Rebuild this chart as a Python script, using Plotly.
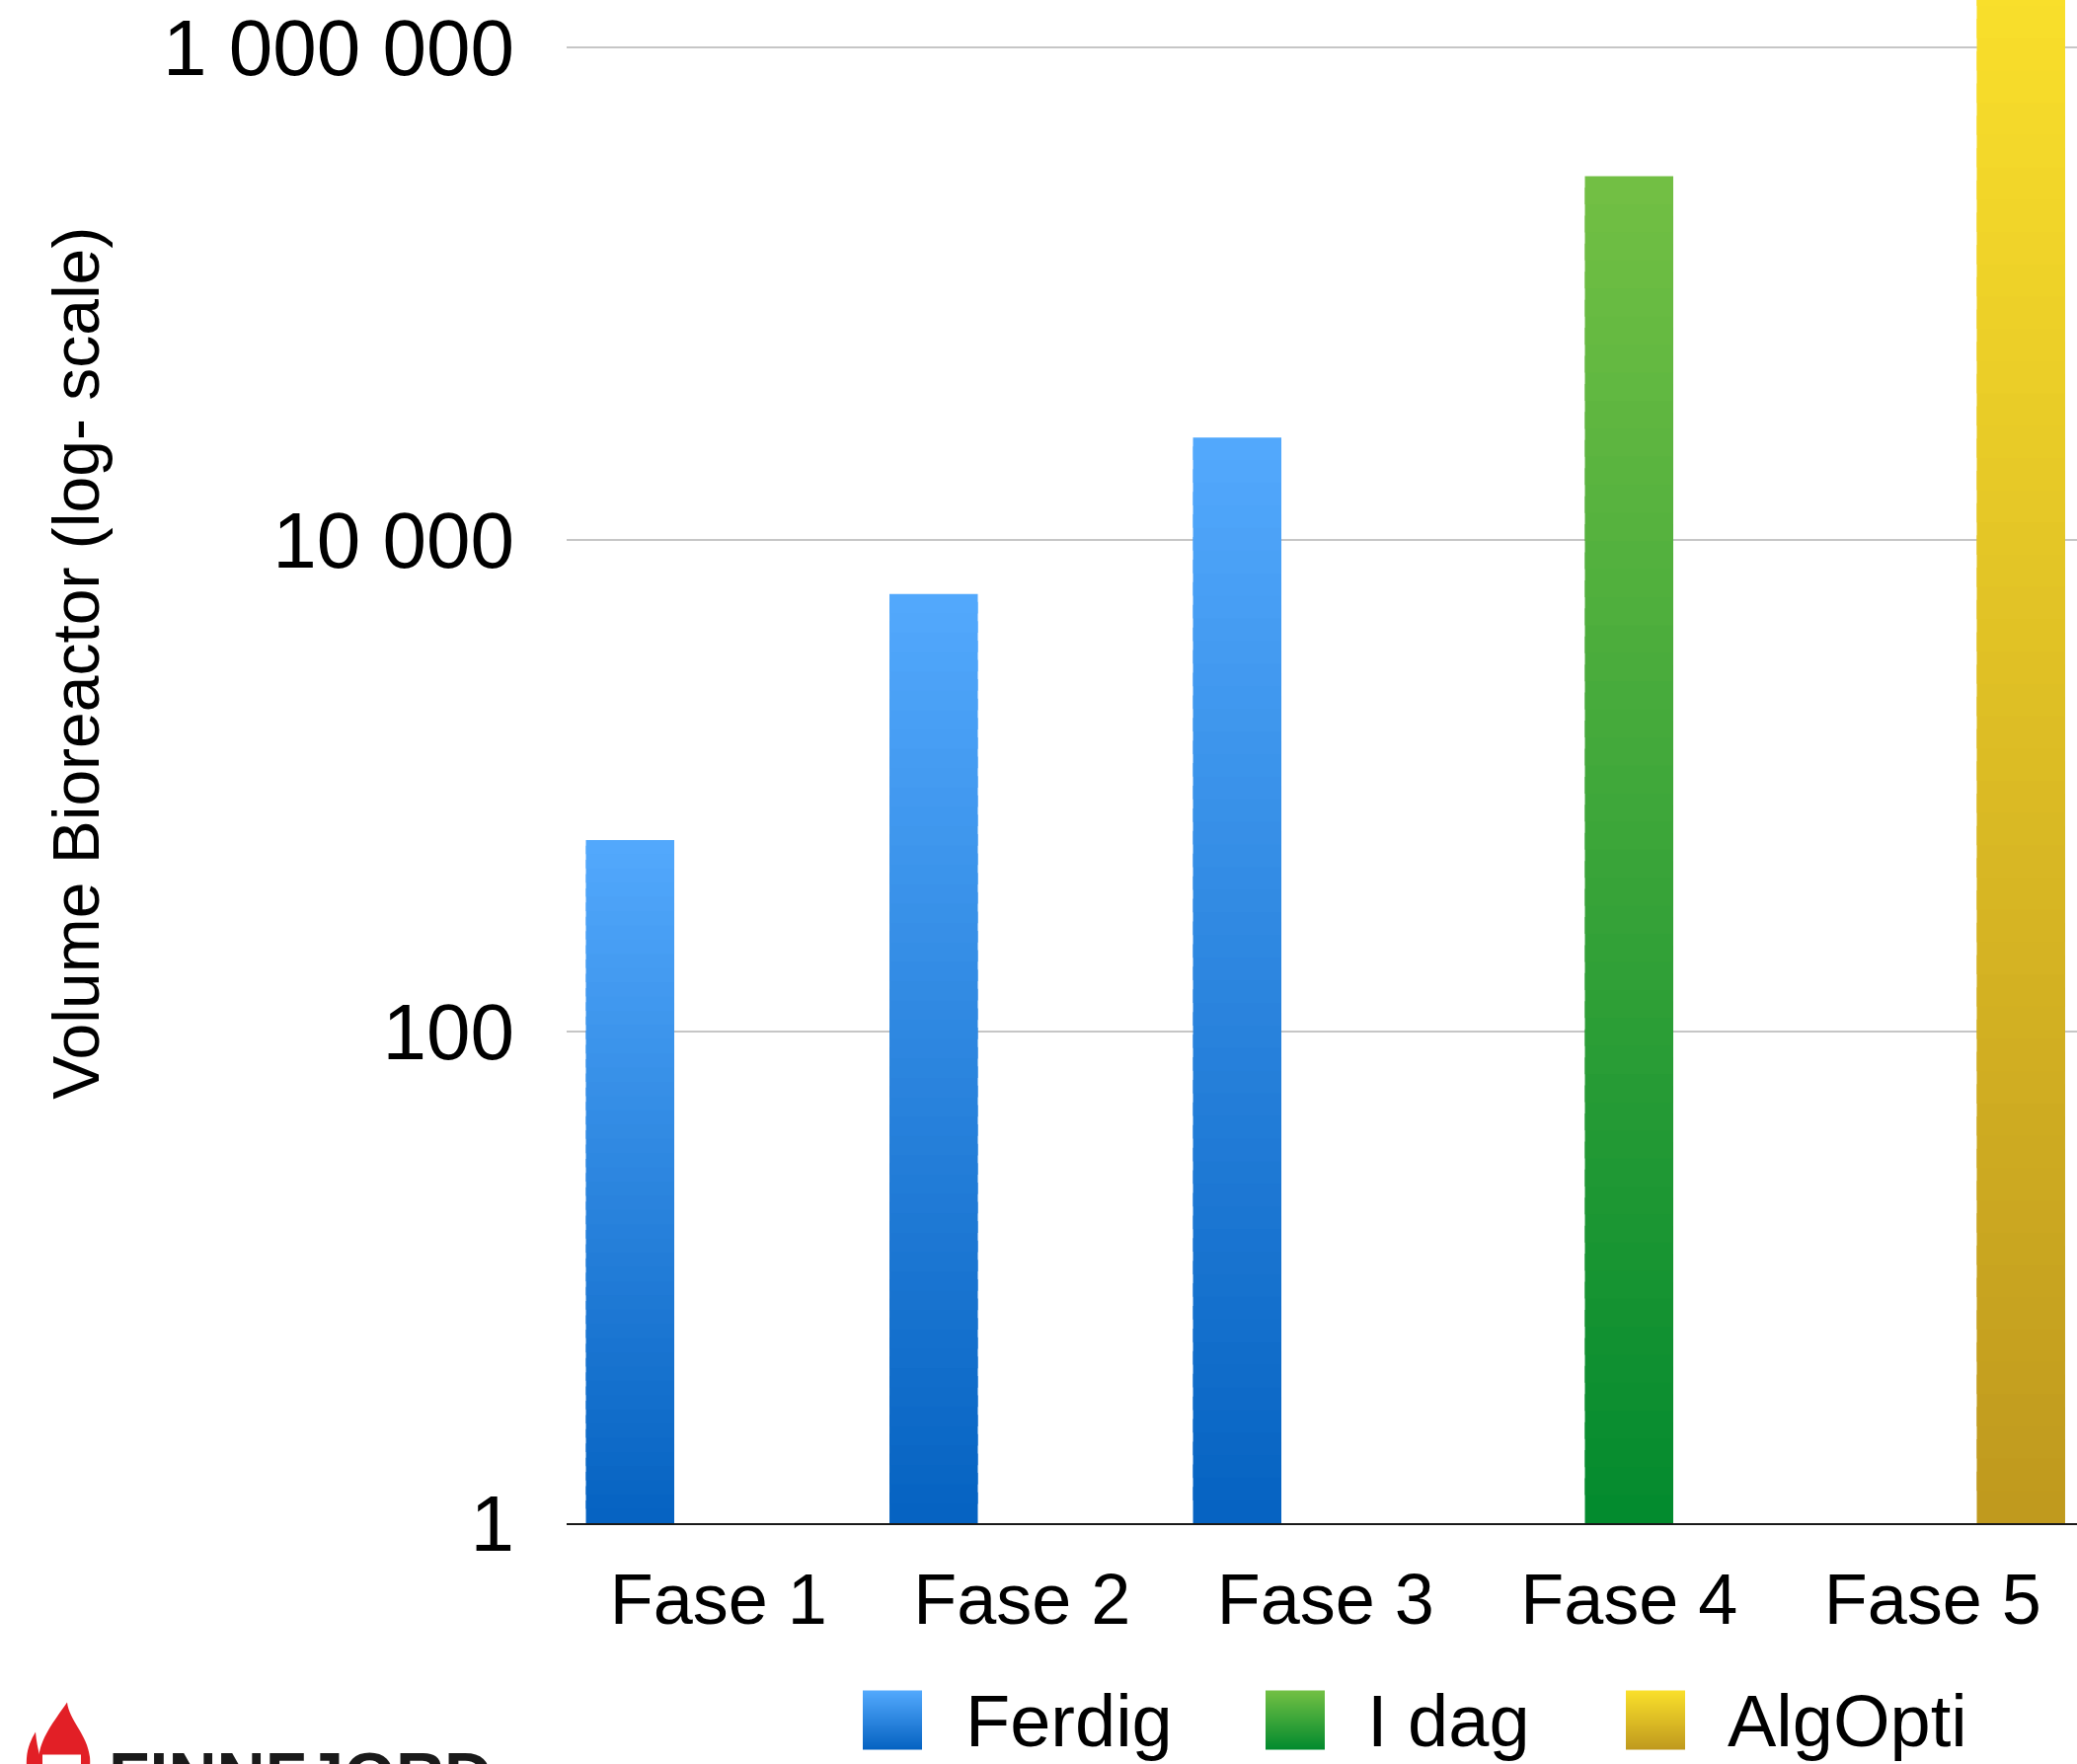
import plotly.graph_objects as go

# ---- data -------------------------------------------------------------
categories = ["Fase 1", "Fase 2", "Fase 3", "Fase 4", "Fase 5"]
series_names = ["Ferdig", "I dag", "AlgOpti"]
ferdig = [600, 6000, 26000, None, None]
i_dag = [None, None, None, 300000, None]
algopti = [None, None, None, None, 2000000]
y_tickvals = [1, 100, 10000, 1000000]
y_ticktext = ["1", "100", "10 000", "1 000 000"]
y_title = "Volume Bioreactor (log- scale)"
logo_text = "FINNFJORD"

series_values = [ferdig, i_dag, algopti]
# (top colour, bottom colour) of each series' vertical gradient
series_gradients = [
    ("#53a9fd", "#0562c1"),
    ("#73c044", "#028a2e"),
    ("#fae02b", "#bf991e"),
]

# ---- geometry of the page (pixels) ------------------------------------
W, H = 2104, 1787
PLOT_L, PLOT_R, PLOT_T, PLOT_B = 574, 2104, 0, 1543.5
FONT = "Liberation Sans, Arial, Helvetica, sans-serif"


def paper(px, py):
    """Pixel position -> paper coordinates."""
    return ((px - PLOT_L) / (PLOT_R - PLOT_L), (PLOT_B - py) / (PLOT_B - PLOT_T))


def hex_to_rgb(h):
    h = h.lstrip("#")
    return tuple(int(h[i:i + 2], 16) for i in (0, 2, 4))


def mix(top, bottom, t):
    """t = 0 -> bottom colour, t = 1 -> top colour."""
    a, b = hex_to_rgb(top), hex_to_rgb(bottom)
    c = [round(b[i] + (a[i] - b[i]) * t) for i in range(3)]
    return "rgb(%d,%d,%d)" % tuple(c)


fig = go.Figure()

# Each bar is built from thin stacked slices (equal height on the log axis)
# so that it can carry a top-to-bottom colour gradient.
N_SLICES = 48
OVERLAP = 0.6
for name, values, (c_top, c_bot) in zip(series_names, series_values, series_gradients):
    for k in range(N_SLICES):
        lo = k / N_SLICES
        hi = min((k + 1 + OVERLAP) / N_SLICES, 1.0)
        bases, lengths = [], []
        for v in values:
            if v is None:
                bases.append(None)
                lengths.append(None)
            else:
                b = v ** lo
                bases.append(b)
                lengths.append(v ** hi - b)
        fig.add_trace(go.Bar(
            x=categories,
            y=lengths,
            base=bases,
            name=name,
            offsetgroup=name,
            legendgroup=name,
            showlegend=False,
            marker=dict(color=mix(c_top, c_bot, (k + 0.5) / N_SLICES), line=dict(width=0)),
            hoverinfo="skip",
        ))

shapes = []
annotations = []

# ---- legend (drawn as gradient swatches + labels) ---------------------
legend_swatch_x = [874, 1282, 1647]
legend_text_x = [976, 1383, 1748]
SW_TOP, SW_SIZE = 1713, 60
SW_STEPS = 30
for name, (c_top, c_bot), sx, tx in zip(series_names, series_gradients,
                                        legend_swatch_x, legend_text_x):
    step = SW_SIZE / SW_STEPS
    for k in range(SW_STEPS):
        y0 = SW_TOP + k * step
        y1 = min(y0 + step + 1, SW_TOP + SW_SIZE)
        x0p, y0p = paper(sx, y0)
        x1p, y1p = paper(sx + SW_SIZE, y1)
        shapes.append(dict(type="rect", xref="paper", yref="paper",
                           x0=x0p, x1=x1p, y0=y0p, y1=y1p,
                           fillcolor=mix(c_top, c_bot, 1 - (k + 0.5) / SW_STEPS),
                           line=dict(width=0), layer="above"))
    axp, ayp = paper(tx, 1744.5)
    annotations.append(dict(text=name, xref="paper", yref="paper", x=axp, y=ayp,
                            xanchor="left", yanchor="middle", showarrow=False,
                            font=dict(family=FONT, size=74, color="black")))

# ---- y-axis title -----------------------------------------------------
tx, ty = paper(77, 672)
annotations.append(dict(text=y_title, xref="paper", yref="paper", x=tx, y=ty,
                        xanchor="center", yanchor="middle", textangle=-90,
                        showarrow=False,
                        font=dict(family=FONT, size=66, color="black")))

# ---- logo in the lower-left corner (partly below the page edge) -------
def path_from(points_cmds):
    out = []
    for cmd, pts in points_cmds:
        coords = []
        for (px, py) in pts:
            x, y = paper(px, py)
            coords.append("%.5f,%.5f" % (x, y))
        out.append(cmd + " " + " ".join(coords))
    return " ".join(out) + " Z"


flame_main = path_from([
    ("M", [(40, 1790)]),
    ("C", [(36, 1768), (52, 1748), (68, 1725)]),
    ("C", [(70, 1745), (94, 1762), (91, 1790)]),
])
flame_small = path_from([
    ("M", [(27, 1790)]),
    ("C", [(26, 1776), (30, 1765), (36, 1755)]),
    ("C", [(37, 1768), (40, 1778), (43, 1790)]),
])
for p in (flame_main, flame_small):
    shapes.append(dict(type="path", xref="paper", yref="paper", path=p,
                       fillcolor="#e21f26", line=dict(width=0), layer="above"))
bx0, by0 = paper(43, 1778)
bx1, by1 = paper(82, 1792)
shapes.append(dict(type="rect", xref="paper", yref="paper",
                   x0=bx0, x1=bx1, y0=by1, y1=by0,
                   fillcolor="white", line=dict(width=0), layer="above"))
lx, ly = paper(108, 1800)
annotations.append(dict(text="<b>%s</b>" % logo_text, xref="paper", yref="paper",
                        x=lx, y=ly, xanchor="left", yanchor="middle",
                        showarrow=False,
                        font=dict(family=FONT, size=68, color="#1a1a1a")))

# ---- layout -----------------------------------------------------------
fig.update_layout(
    width=W, height=H,
    margin=dict(l=PLOT_L, r=W - PLOT_R, t=PLOT_T, b=H - PLOT_B, pad=0, autoexpand=False),
    paper_bgcolor="white",
    plot_bgcolor="white",
    barmode="group",
    bargap=0.127,
    bargroupgap=0,
    showlegend=False,
    shapes=shapes,
    annotations=annotations,
    font=dict(family=FONT, color="black"),
)
fig.update_xaxes(
    type="category",
    range=[-0.5, 4.4756],
    showline=True, linecolor="#1a1a1a", linewidth=2,
    showgrid=False, ticks="",
    tickfont=dict(family=FONT, size=72, color="black"),
    ticklabelstandoff=14,
    fixedrange=True,
)
fig.update_yaxes(
    type="log",
    range=[0, 6.194],
    tickvals=y_tickvals, ticktext=y_ticktext,
    showgrid=True, gridcolor="#c6c6c6", gridwidth=1.5,
    showline=False, zeroline=False, ticks="",
    tickfont=dict(family=FONT, size=80, color="black"),
    ticklabelstandoff=52,
    fixedrange=True,
)

fig.write_html("out.html")
